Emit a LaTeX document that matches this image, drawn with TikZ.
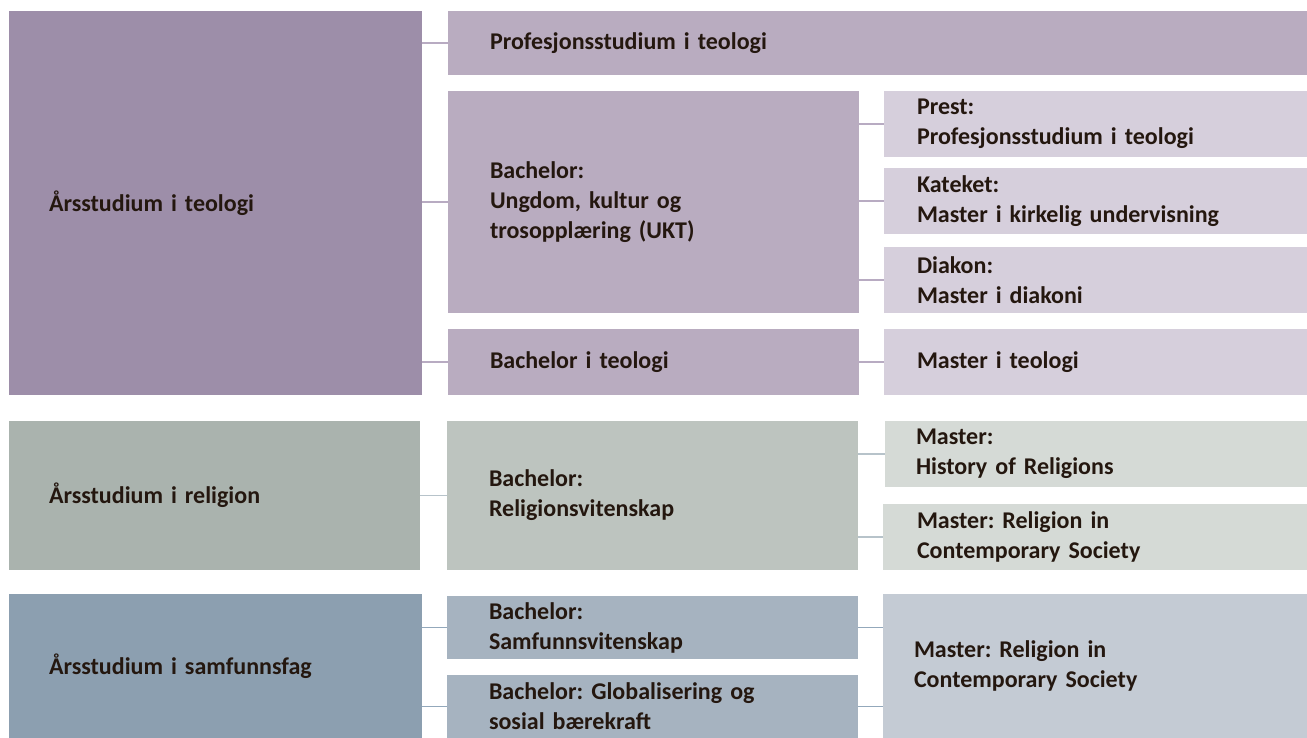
\documentclass[tikz,border=0pt]{standalone}
\usepackage{fontspec}
\setmainfont{Carlito}
\frenchspacing
\usetikzlibrary{positioning}
\definecolor{ink}{HTML}{24170F}
\definecolor{teoA}{HTML}{9D8EA9}
\definecolor{teoB}{HTML}{B9ACC0}
\definecolor{teoC}{HTML}{D6CFDC}
\definecolor{teoL}{HTML}{B8ABC2}
\definecolor{relA}{HTML}{AAB3AE}
\definecolor{relB}{HTML}{BDC4BF}
\definecolor{relC}{HTML}{D5DAD6}
\definecolor{relL}{HTML}{B7C3CA}
\definecolor{samA}{HTML}{8C9FB0}
\definecolor{samB}{HTML}{A6B3C0}
\definecolor{samC}{HTML}{C4CBD4}
\definecolor{samL}{HTML}{93A8BB}
\begin{document}
\begin{tikzpicture}[x=1pt, y=-1pt, font=\fontsize{24}{30}\selectfont\bfseries\frenchspacing, text=ink,
    box/.style={rectangle, inner ysep=0pt, align=left},
    colA/.style={box, inner xsep=40pt, text width=333pt},
    colB/.style={box, inner xsep=42pt, text width=327pt},
    colC/.style={box, inner xsep=33pt, text width=357pt},
    lnk/.style={line width=1.4pt}
    ]
    \useasboundingbox (0,0) rectangle (1307,738);
    % first year
    \node[colA, fill=teoA, minimum height=384pt] at (215.5,203) (teo) {Årsstudium i teologi};
    \node[colA, fill=relA, minimum height=149pt, text width=331pt] at (214.5,495.5) (rel) {Årsstudium i religion};
    \node[colA, fill=samA, minimum height=144pt] at (215.5,666) (sam) {Årsstudium i samfunnsfag};
    % bachelor
    \node[box, fill=teoB, inner xsep=42pt, text width=775pt, minimum height=64pt] at (877.5,43) (prof) {Profesjonsstudium i teologi};
    \node[colB, fill=teoB, minimum height=222pt] at (653.5,202) (bukt) {Bachelor:\\Ungdom, kultur og\\trosopplæring (UKT)};
    \node[colB, fill=teoB, minimum height=66pt] at (653.5,362) (bteo) {Bachelor i teologi};
    \node[colB, fill=relB, minimum height=149pt] at (652.5,495.5) (brel) {Bachelor:\\Religionsvitenskap};
    \node[colB, fill=samB, minimum height=63pt] at (652.5,627.5) (bsam) {Bachelor:\\Samfunnsvitenskap};
    \node[colB, fill=samB, minimum height=63pt] at (652.5,706.5) (bglob) {Bachelor: Globalisering og\\sosial bærekraft};
    % master
    \node[colC, fill=teoC, minimum height=66pt] at (1095.5,124) (prest) {Prest:\\Profesjonsstudium i teologi};
    \node[colC, fill=teoC, minimum height=66pt] at (1095.5,201) (kat) {Kateket:\\Master i kirkelig undervisning};
    \node[colC, fill=teoC, minimum height=66pt] at (1095.5,280) (diak) {Diakon:\\Master i diakoni};
    \node[colC, fill=teoC, minimum height=66pt] at (1095.5,362) (mteo) {Master i teologi};
    \node[colC, fill=relC, minimum height=66pt, inner xsep=31pt, text width=360pt] at (1096,454) (mhist) {Master:\\History of Religions};
    \node[colC, fill=relC, minimum height=66pt, inner xsep=34pt, text width=356pt] at (1095,537) (mrcs) {Master: Religion in\\Contemporary Society};
    \node[colC, fill=samC, minimum height=144pt, inner xsep=31pt, text width=362pt] at (1095,666) (msam) {Master: Religion in\\Contemporary Society};
    % connectors
    \draw[lnk, teoL] (teo.east |- prof.west) -- (prof.west);
    \draw[lnk, teoL] (teo.east |- bukt.west) -- (bukt.west);
    \draw[lnk, teoL] (teo.east |- bteo.west) -- (bteo.west);
    \draw[lnk, teoL] (bukt.east |- prest.west) -- (prest.west);
    \draw[lnk, teoL] (bukt.east |- kat.west) -- (kat.west);
    \draw[lnk, teoL] (bukt.east |- diak.west) -- (diak.west);
    \draw[lnk, teoL] (bteo.east) -- (mteo.west);
    \draw[lnk, relL] (rel.east) -- (brel.west);
    \draw[lnk, relL] (brel.east |- mhist.west) -- (mhist.west);
    \draw[lnk, relL] (brel.east |- mrcs.west) -- (mrcs.west);
    \draw[lnk, samL] (sam.east |- bsam.west) -- (bsam.west);
    \draw[lnk, samL] (sam.east |- bglob.west) -- (bglob.west);
    \draw[lnk, samL] (bsam.east) -- (bsam.east -| msam.west);
    \draw[lnk, samL] (bglob.east) -- (bglob.east -| msam.west);
\end{tikzpicture}
\end{document}
